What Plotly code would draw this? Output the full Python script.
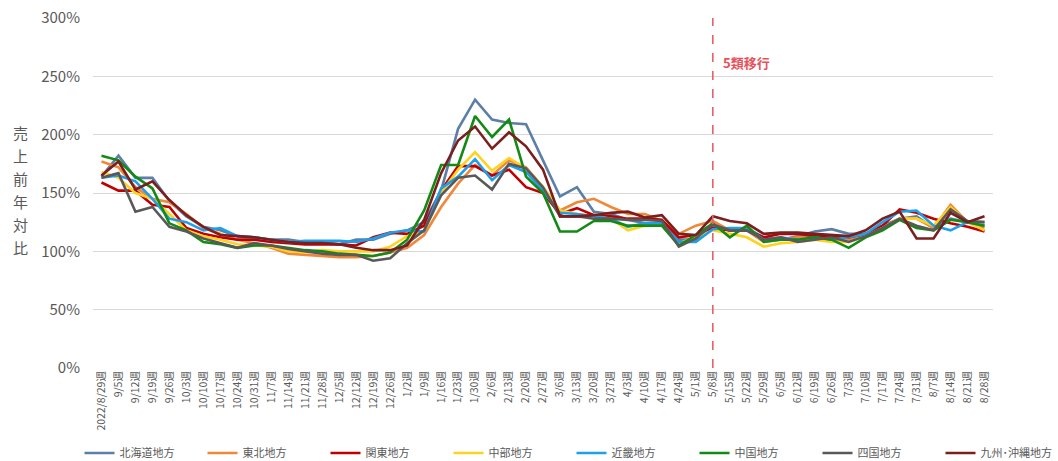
import plotly.graph_objects as go

weeks = ["2022/8/29週", "9/5週", "9/12週", "9/19週", "9/26週", "10/3週", "10/10週", "10/17週", "10/24週",
         "10/31週", "11/7週", "11/14週", "11/21週", "11/28週", "12/5週", "12/12週", "12/19週", "12/26週",
         "1/2週", "1/9週", "1/16週", "1/23週", "1/30週", "2/6週", "2/13週", "2/20週", "2/27週", "3/6週",
         "3/13週", "3/20週", "3/27週", "4/3週", "4/10週", "4/17週", "4/24週", "5/1週", "5/8週", "5/15週",
         "5/22週", "5/29週", "6/5週", "6/12週", "6/19週", "6/26週", "7/3週", "7/10週", "7/17週", "7/24週",
         "7/31週", "8/7週", "8/14週", "8/21週", "8/28週"]

hokkaido = [164, 182, 163, 163, 143, 130, 121, 118, 113, 112, 110, 110, 108, 108, 106, 110, 110, 115, 118, 125,
            152, 205, 230, 213, 210, 209, 178, 147, 155, 134, 132, 127, 124, 124, 110, 110, 122, 118, 120, 112,
            110, 113, 117, 119, 115, 115, 122, 128, 130, 120, 128, 125, 125]
tohoku = [177, 172, 155, 145, 142, 132, 120, 115, 110, 107, 103, 98, 97, 96, 95, 95, 96, 99, 103, 114,
          138, 158, 174, 165, 178, 172, 155, 135, 142, 145, 138, 132, 132, 126, 115, 122, 126, 118, 118, 108,
          110, 112, 112, 110, 110, 115, 120, 128, 128, 120, 140, 125, 120]
kanto = [159, 152, 152, 140, 138, 120, 115, 112, 110, 110, 108, 107, 106, 106, 106, 105, 112, 116, 115, 122,
         152, 173, 173, 165, 170, 155, 150, 132, 137, 131, 130, 128, 128, 127, 112, 114, 120, 118, 118, 112,
         115, 115, 113, 113, 112, 115, 122, 136, 133, 128, 124, 121, 117]
chubu = [168, 163, 150, 145, 132, 118, 113, 110, 106, 105, 104, 100, 99, 101, 100, 100, 100, 104, 113, 117,
         150, 170, 185, 169, 180, 171, 155, 135, 132, 130, 128, 118, 122, 122, 107, 112, 118, 115, 112, 104,
         107, 108, 110, 108, 108, 113, 120, 128, 128, 122, 138, 125, 118]
kinki = [163, 165, 160, 145, 128, 125, 118, 120, 113, 112, 110, 108, 109, 109, 109, 108, 111, 116, 118, 117,
         154, 164, 179, 161, 174, 168, 152, 133, 132, 130, 128, 121, 124, 124, 108, 108, 119, 120, 120, 110,
         112, 110, 112, 110, 112, 115, 125, 134, 135, 122, 118, 125, 122]
chugoku = [182, 178, 164, 154, 124, 118, 108, 106, 103, 105, 105, 103, 101, 100, 98, 97, 96, 99, 110, 135,
           174, 174, 216, 198, 213, 164, 150, 117, 117, 126, 126, 122, 122, 122, 105, 114, 124, 112, 122, 108,
           110, 110, 112, 110, 103, 112, 118, 127, 120, 118, 127, 125, 122]
shikoku = [163, 167, 134, 138, 121, 117, 111, 107, 103, 107, 105, 102, 100, 98, 97, 97, 92, 94, 107, 118,
           148, 163, 165, 153, 175, 171, 155, 130, 130, 128, 128, 127, 127, 126, 104, 111, 123, 118, 118, 110,
           112, 108, 110, 112, 108, 113, 120, 128, 122, 118, 136, 126, 125]
kyushu = [165, 177, 153, 160, 144, 131, 121, 114, 113, 112, 110, 108, 107, 107, 106, 103, 101, 101, 105, 127,
          167, 195, 207, 188, 202, 190, 170, 130, 130, 131, 133, 134, 129, 131, 115, 114, 130, 126, 124, 115,
          116, 116, 115, 114, 113, 118, 128, 134, 111, 111, 133, 125, 130]

series_names = ["北海道地方", "東北地方", "関東地方", "中部地方", "近畿地方", "中国地方", "四国地方", "九州･沖縄地方"]
series_values = [hokkaido, tohoku, kanto, chubu, kinki, chugoku, shikoku, kyushu]
colors = ["#5B7FA6", "#F0883A", "#C00000", "#FFD21F", "#1E9FEA", "#138A13", "#595959", "#7A1E1E"]

event_week = "5/8週"
event_label = "5類移行"
y_title = "売上前年対比"

font_family = "Noto Sans CJK JP, Noto Sans, sans-serif"

fig = go.Figure()
for name, vals, col in zip(series_names, series_values, colors):
    fig.add_trace(go.Scatter(x=weeks, y=vals, name=name, mode="lines",
                             line=dict(color=col, width=2.6)))

fig.add_shape(type="line", xref="x", yref="paper", x0=event_week, x1=event_week, y0=0, y1=1,
              line=dict(color="#E8606A", width=1.6, dash="dash"))
fig.add_annotation(x=event_week, y=262, xref="x", yref="y", text="<b>" + event_label + "</b>",
                   showarrow=False, xanchor="left", xshift=8,
                   font=dict(color="#E8505A", size=13, family=font_family))

n_chars = len(y_title)
for k, ch in enumerate(y_title):
    fig.add_annotation(x=-0.081, y=0.509, xref="paper", yref="paper", text=ch,
                       showarrow=False, xanchor="center", yanchor="middle",
                       yshift=(n_chars - 1) / 2 * 23 - k * 23,
                       font=dict(color="#595959", size=15, family=font_family))

fig.update_layout(
    width=1058, height=461,
    margin=dict(l=93, r=65, t=18, b=93, autoexpand=False),
    plot_bgcolor="white", paper_bgcolor="white",
    font=dict(family=font_family, color="#595959"),
    showlegend=True,
    legend=dict(orientation="h", x=-0.015, xanchor="left", y=-0.243, yanchor="middle",
                font=dict(size=11, color="#595959"), entrywidth=78, entrywidthmode="pixels",
                itemwidth=30, bgcolor="rgba(0,0,0,0)"),
    xaxis=dict(type="category", range=[-0.5, len(weeks) - 0.5], tickangle=-90,
               tickfont=dict(size=10.5, color="#595959"),
               showgrid=False, showline=False, ticks="", zeroline=False, automargin=False),
    yaxis=dict(range=[0, 300], dtick=50, ticksuffix="%", showgrid=True, gridcolor="#D9D9D9",
               gridwidth=1, zeroline=False, tickfont=dict(size=15, color="#595959"),
               ticklabelstandoff=12, automargin=False),
)

fig.write_html("out.html", config={"displayModeBar": False},
               post_script="document.body.style.margin='0px';")
